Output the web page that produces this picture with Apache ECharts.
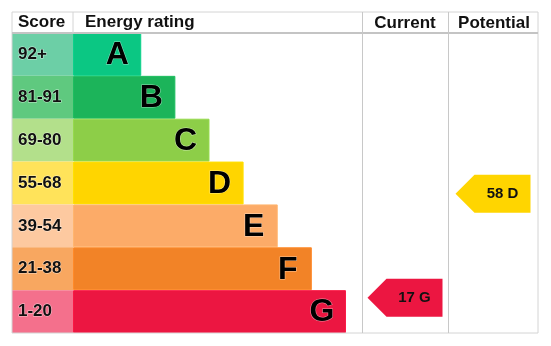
<!DOCTYPE html>
<html>
<head>
    <meta charset="utf-8">
    <title>Energy rating</title>
    <script src="https://cdn.jsdelivr.net/npm/echarts@6/dist/echarts.min.js"></script>
    <style>
        html, body { margin: 0; padding: 0; background: #fff; }
    </style>
</head>
<body>
    <div id="main" style="width: 551px;height:346px;"></div>
    <script>
        // bands, top to bottom
        var bands = ['A', 'B', 'C', 'D', 'E', 'F', 'G'];
        var scoreLabels = ['92+', '81-91', '69-80', '55-68', '39-54', '21-38', '1-20'];
        var bandMin = [92, 81, 69, 55, 39, 21, 1];
        var bandMax = [100, 91, 80, 68, 54, 38, 20];
        var barLengths = [2, 3, 4, 5, 6, 7, 8];
        var bandColors = ['#0bc783', '#1cb45a', '#8dce48', '#ffd500', '#fcab68', '#f28327', '#ec1641'];
        var scoreColors = ['#6ccfa6', '#5fc97f', '#b3e08b', '#ffe35a', '#fdc9a0', '#f8a760', '#f4708c'];
        var currentScore = 17;
        var potentialScore = 58;

        var font = 'Liberation Sans, Arial, sans-serif';

        function bandOf(score) {
            for (var i = 0; i < bands.length; i++) {
                if (score >= bandMin[i] && score <= bandMax[i]) return i;
            }
            return 0;
        }
        // score -> position on a 0..7 band axis
        function bandPos(score) {
            var i = bandOf(score);
            return i + (bandMax[i] - score + 0.5) / (bandMax[i] - bandMin[i] + 1);
        }

        var myChart = echarts.init(document.getElementById('main'));

        function arrowSeries(idx, score) {
            var b = bandOf(score);
            return {
                type: 'custom',
                xAxisIndex: idx,
                yAxisIndex: idx,
                data: [[0.5, bandPos(score)]],
                renderItem: function (params, api) {
                    var p = api.coord([api.value(0), api.value(1)]);
                    var cx = p[0], cy = p[1];
                    var hw = 37.5, h = 19, tip = 19;
                    return {
                        type: 'group',
                        children: [{
                            type: 'polygon',
                            shape: {
                                points: [
                                    [cx - hw, cy], [cx - hw + tip, cy - h], [cx + hw, cy - h],
                                    [cx + hw, cy + h], [cx - hw + tip, cy + h]
                                ]
                            },
                            style: { fill: bandColors[b] }
                        }, {
                            type: 'text',
                            style: {
                                x: cx + tip / 2,
                                y: cy,
                                text: score + ' ' + bands[b],
                                fill: '#111',
                                font: 'bold 15px ' + font,
                                align: 'center',
                                verticalAlign: 'middle'
                            }
                        }]
                    };
                }
            };
        }

        var gridTop = 33, gridBottom = 13;
        var option = {
            backgroundColor: '#fff',
            animation: false,
            grid: [
                { left: 12, top: gridTop, width: 61, bottom: gridBottom },
                { left: 73, top: gridTop, width: 289, bottom: gridBottom },
                { left: 362, top: gridTop, width: 86, bottom: gridBottom },
                { left: 448, top: gridTop, width: 90, bottom: gridBottom }
            ],
            xAxis: [
                { gridIndex: 0, type: 'value', min: 0, max: 1, show: false },
                { gridIndex: 1, type: 'value', min: 0, max: 8.47, show: false },
                { gridIndex: 2, type: 'value', min: 0, max: 1, show: false },
                { gridIndex: 3, type: 'value', min: 0, max: 1, show: false }
            ],
            yAxis: [
                { gridIndex: 0, type: 'category', data: scoreLabels, inverse: true, show: false },
                { gridIndex: 1, type: 'category', data: bands, inverse: true, show: false },
                { gridIndex: 2, type: 'value', min: 0, max: 7, inverse: true, show: false },
                { gridIndex: 3, type: 'value', min: 0, max: 7, inverse: true, show: false }
            ],
            graphic: [
                // table lines
                { type: 'rect', shape: { x: 12, y: 12, width: 526, height: 321 }, style: { fill: null, stroke: '#d4d4d4', lineWidth: 1 }, z: 10 },
                { type: 'line', shape: { x1: 12, y1: 33, x2: 538, y2: 33 }, style: { stroke: '#c4c4c4', lineWidth: 2 }, z: 10 },
                { type: 'line', shape: { x1: 73, y1: 12, x2: 73, y2: 33 }, style: { stroke: '#d4d4d4', lineWidth: 1 }, z: 10 },
                { type: 'line', shape: { x1: 362.5, y1: 12, x2: 362.5, y2: 333 }, style: { stroke: '#c8c8c8', lineWidth: 1 }, z: 10 },
                { type: 'line', shape: { x1: 448.5, y1: 12, x2: 448.5, y2: 333 }, style: { stroke: '#c8c8c8', lineWidth: 1 }, z: 10 },
                // header texts
                { type: 'text', left: 18, top: 14, style: { text: 'Score', font: 'bold 17px ' + font, fill: '#111' } },
                { type: 'text', left: 85, top: 14, style: { text: 'Energy rating', font: 'bold 17px ' + font, fill: '#111' } },
                { type: 'text', x: 405, y: 23, style: { text: 'Current', font: 'bold 17px ' + font, fill: '#111', align: 'center', verticalAlign: 'middle' } },
                { type: 'text', x: 494, y: 23, style: { text: 'Potential', font: 'bold 17px ' + font, fill: '#111', align: 'center', verticalAlign: 'middle' } }
            ],
            series: [{
                type: 'bar',
                xAxisIndex: 0,
                yAxisIndex: 0,
                barCategoryGap: '0%',
                data: scoreLabels.map(function (s, i) {
                    return { value: 1, itemStyle: { color: scoreColors[i] } };
                }),
                label: {
                    show: true,
                    position: 'insideLeft',
                    distance: 6,
                    formatter: function (p) { return scoreLabels[p.dataIndex]; },
                    color: '#111',
                    fontFamily: font,
                    fontWeight: 'bold',
                    fontSize: 17,
                    textBorderColor: 'rgba(255,255,255,0.6)',
                    textBorderWidth: 1
                }
            }, {
                type: 'bar',
                xAxisIndex: 1,
                yAxisIndex: 1,
                barCategoryGap: '0%',
                data: barLengths.map(function (v, i) {
                    return {
                        value: v,
                        itemStyle: {
                            color: bandColors[i],
                            borderColor: echarts.color.lift(bandColors[i], -0.06),
                            borderWidth: 1
                        }
                    };
                }),
                label: {
                    show: true,
                    position: 'insideRight',
                    distance: 0,
                    align: 'center',
                    offset: [-24, 1],
                    formatter: function (p) { return bands[p.dataIndex]; },
                    color: '#000',
                    fontFamily: font,
                    fontWeight: 'bold',
                    fontSize: 32,
                    textBorderColor: 'rgba(255,255,255,0.5)',
                    textBorderWidth: 1
                }
            },
            arrowSeries(2, currentScore),
            arrowSeries(3, potentialScore)
            ]
        };
        myChart.setOption(option);
    </script>
</body>
</html>
